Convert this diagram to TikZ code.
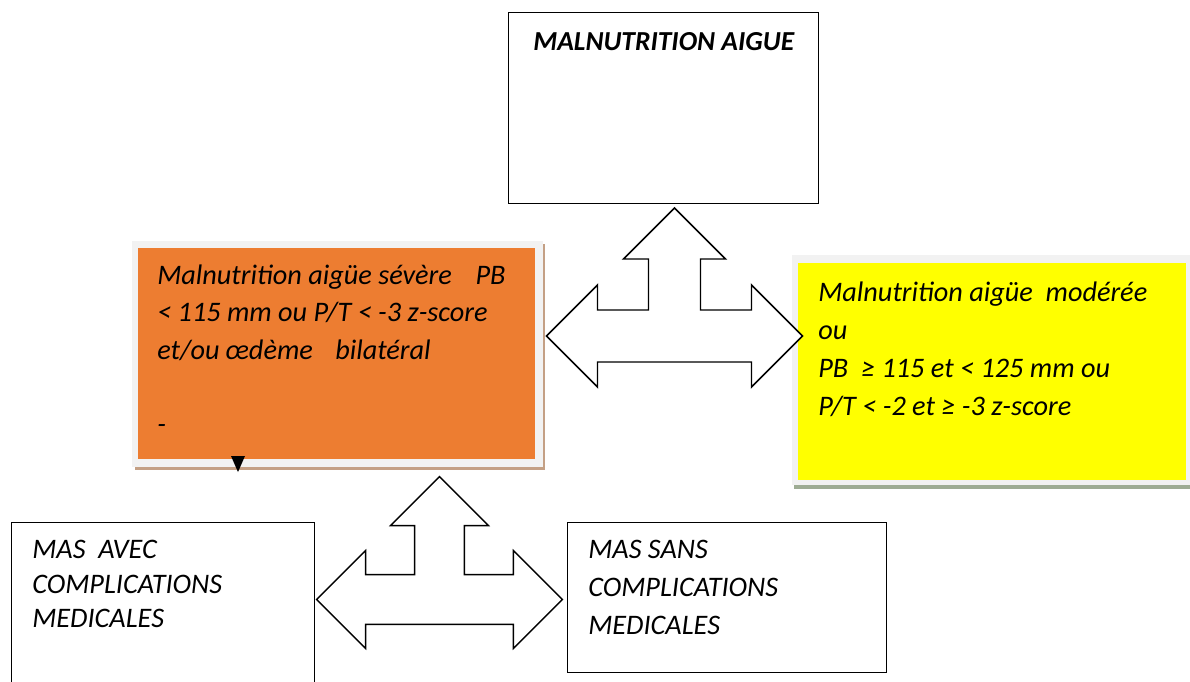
\documentclass[tikz,border=0pt]{standalone}
\usepackage{fontspec}
\setmainfont{Carlito}
\usetikzlibrary{positioning}
\definecolor{orangemas}{RGB}{237,125,49}
\definecolor{jaunemam}{RGB}{255,255,0}
\definecolor{cadre}{RGB}{242,242,242}
\definecolor{ombreorange}{RGB}{196,160,133}
\definecolor{ombrejaune}{RGB}{158,172,148}
\tikzset{
    % boites blanches
    boite/.style={
           rectangle,
           draw=black, line width=1.1pt,
           anchor=north west},
    % boites colorees
    couleur/.style={
           rectangle,
           anchor=north west,
           fill=#1},
    % textes
    texte/.style={
           anchor=north west,
           align=left,
           inner sep=0pt,
           font=\fontsize{21.2}{27.5}\selectfont\itshape},
    titre/.style={
           anchor=north west,
           inner sep=0pt,
           font=\fontsize{20.6}{24}\selectfont\bfseries\itshape},
    % grosses fleches
    fleche/.style={
           draw=black, line width=1.1pt,
           fill=white,
           line join=miter}
}
% fleche a trois branches: #1 centre, #2 echelle
\newcommand{\troisfleches}[2]{%
  \draw[fleche, shift={(#1)}, scale=#2]
    (0,-128) -- (51,-77) -- (26,-77) -- (26,-26) -- (77,-26) -- (77,-51)
    -- (128,0) -- (77,51) -- (77,26) -- (-77,26) -- (-77,51) -- (-128,0)
    -- (-77,-51) -- (-77,-26) -- (-26,-26) -- (-26,-77) -- (-51,-77) -- cycle;}

\begin{document}
\begin{tikzpicture}[x=0.75pt,y=-0.75pt]
\useasboundingbox (0,0) rectangle (1190,682);

% boite du haut
\node[boite, minimum width=232.5pt, minimum height=143.25pt] (aigue) at (508,12) {};
\node[titre] (titreaigue) at (533,32) {MALNUTRITION AIGUE};

% MAS
\fill[ombreorange] (135,244) rectangle (545,470);
\fill[cadre] (132,241) rectangle (543,467);
\node[couleur=orangemas, minimum width=297.75pt, minimum height=158.25pt] (mas) at (138,248) {};
\node[texte, font=\fontsize{21.2}{27.8}\selectfont\itshape] (txtmas) at (157,265)
  {Malnutrition aigüe sévère\hspace*{13pt} PB\\
   < 115 mm ou P/T < -3 z-score\\
   et/ou œdème\hspace*{12pt} bilatéral\\
   ~\\
   -};
\fill (231,456) -- (245,456) -- (238,472) -- cycle;

% MAM
\fill[ombrejaune] (794,258) rectangle (1195,489);
\fill[cadre] (792,255) rectangle (1195,485);
\node[couleur=jaunemam, minimum width=291pt, minimum height=162.75pt] (mam) at (798,263) {};
\node[texte, font=\fontsize{21.2}{28.5}\selectfont\itshape] (txtmam) at (818,282)
  {Malnutrition aigüe\ \ modérée\\
   ou\\
   PB\ \ ≥ 115 et < 125 mm ou\\
   P/T < -2 et ≥ -3 z-score};

% boites du bas
\node[boite, minimum width=227.25pt, minimum height=127.5pt] (avec) at (11,522) {};
\node[texte, font=\fontsize{21.2}{26}\selectfont\itshape] (txtavec) at (32,540)
  {MAS\ \ AVEC\\
   COMPLICATIONS\\
   MEDICALES};
\node[boite, minimum width=239.25pt, minimum height=112.5pt] (sans) at (567,522) {};
\node[texte, font=\fontsize{21.2}{28.6}\selectfont\itshape] (txtsans) at (588,540)
  {MAS SANS\\
   COMPLICATIONS\\
   MEDICALES};

% fleches
\coordinate (centrehaut) at (674.5,336);
\coordinate (centrebas) at (439.5,599.5);
\troisfleches{centrehaut}{1}
\troisfleches{centrebas}{0.96}
\end{tikzpicture}
\end{document}
